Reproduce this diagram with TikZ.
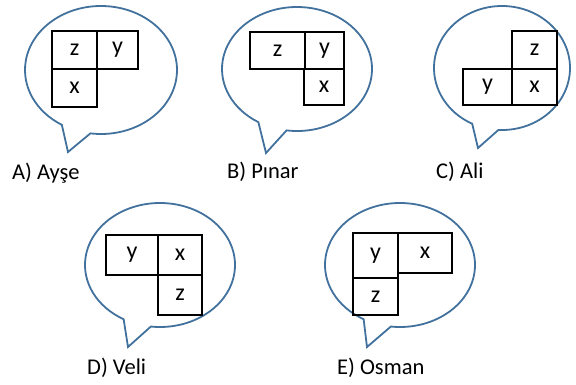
\documentclass[tikz,border=0pt]{standalone}
\usepackage{fontspec}
\setmainfont{Carlito}
\begin{document}
\begin{tikzpicture}[x=1pt,y=-1pt,
  bubble/.style={draw=bubbleblue,line width=1.8pt,line join=miter},
  cell/.style={draw=black,line width=2pt,inner sep=0pt,
    font=\fontsize{24}{28}\selectfont},
  caption/.style={anchor=west,inner sep=0pt,font=\fontsize{22.5}{27}\selectfont}]
\definecolor{bubbleblue}{HTML}{41719C}
\useasboundingbox (0,0) rectangle (576,385);

% speech bubbles: elliptic arc, then the tail down to its tip
\coordinate (cA) at (101,70);  \coordinate (tA) at (68,152);
\coordinate (cB) at (297,69);  \coordinate (tB) at (266,153);
\coordinate (cC) at (502,68);  \coordinate (tC) at (478,148);
\coordinate (cD) at (160,265); \coordinate (tD) at (128,347);
\coordinate (cE) at (400,265); \coordinate (tE) at (367,347);

\draw[bubble] ([shift={(262:76pt and 64pt)}]cA)
  arc[start angle=262,end angle=599,x radius=76pt,y radius=64pt] -- (tA) -- cycle;
\draw[bubble] ([shift={(262:75pt and 62pt)}]cB)
  arc[start angle=262,end angle=599,x radius=75pt,y radius=62pt] -- (tB) -- cycle;
\draw[bubble] ([shift={(267:68pt and 62pt)}]cC)
  arc[start angle=267,end angle=604,x radius=68pt,y radius=62pt] -- (tC) -- cycle;
\draw[bubble] ([shift={(263:75pt and 62pt)}]cD)
  arc[start angle=263,end angle=601,x radius=75pt,y radius=62pt] -- (tD) -- cycle;
\draw[bubble] ([shift={(263:75pt and 62pt)}]cE)
  arc[start angle=263,end angle=601,x radius=75pt,y radius=62pt] -- (tE) -- cycle;

% A) Ayse
\node[cell,minimum width=45pt,minimum height=38pt] (Az) at (74.5,50) {z};
\node[cell,minimum width=41pt,minimum height=38pt] (Ay) at (117.5,50) {y};
\node[cell,minimum width=45pt,minimum height=38pt] (Ax) at (74.5,88) {x};
% B) Pinar
\node[cell,minimum width=55pt,minimum height=37pt] (Bz) at (277.5,50.5) {z};
\node[cell,minimum width=39pt,minimum height=37pt] (By) at (324.5,50.5) {y};
\node[cell,minimum width=40pt,minimum height=36pt] (Bx) at (324,87) {x};
% C) Ali
\node[cell,minimum width=45pt,minimum height=38pt] (Cz) at (534.5,50) {z};
\node[cell,minimum width=49pt,minimum height=36pt] (Cy) at (487.5,87) {y};
\node[cell,minimum width=45pt,minimum height=36pt] (Cx) at (534.5,87) {x};
% D) Veli
\node[cell,minimum width=52pt,minimum height=40pt] (Dy) at (132,255) {y};
\node[cell,minimum width=44pt,minimum height=40pt] (Dx) at (180,255) {x};
\node[cell,minimum width=44pt,minimum height=40pt] (Dz) at (180,295) {z};
% E) Osman
\node[cell,minimum width=45pt,minimum height=45pt] (Ey) at (375.5,255.5) {y};
\node[cell,minimum width=54pt,minimum height=40pt] (Ex) at (425,253) {x};
\node[cell,minimum width=45pt,minimum height=37pt] (Ez) at (375.5,296.5) {z};

% captions
\node[caption] (lA) at (12,173) {A) Ayşe};
\node[caption] (lB) at (227,172) {B) Pınar};
\node[caption] (lC) at (436,172) {C) Ali};
\node[caption] (lD) at (87,368) {D) Veli};
\node[caption] (lE) at (337,368) {E) Osman};
\end{tikzpicture}
\end{document}
